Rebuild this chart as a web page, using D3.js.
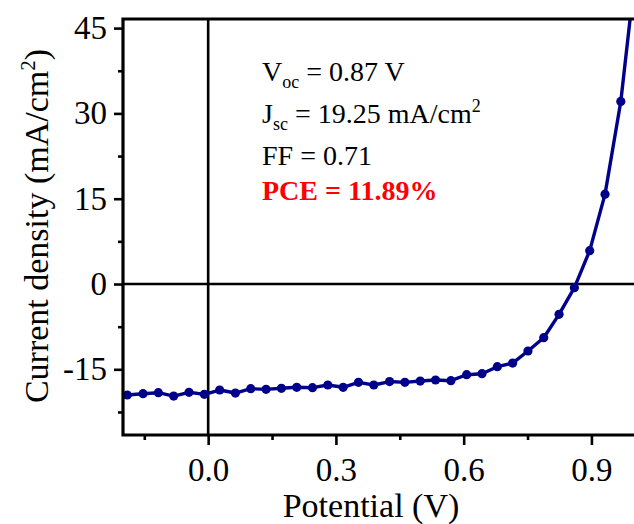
<!DOCTYPE html>
<html>
<head>
<meta charset="utf-8">
<script src="https://cdn.jsdelivr.net/npm/d3@7"></script>
<style>
  html, body { margin: 0; padding: 0; background: #fff; }
  svg { display: block; }
  text { font-family: "Liberation Serif", "Times New Roman", serif; }
</style>
</head>
<body>
<svg id="chart" width="634" height="524"></svg>
<script>
// ---- data ----
const potential = [-0.190, -0.153, -0.117, -0.081, -0.045, -0.009, 0.027, 0.064, 0.100, 0.136,
                   0.172, 0.208, 0.245, 0.281, 0.317, 0.353, 0.389, 0.426, 0.462, 0.498,
                   0.534, 0.570, 0.607, 0.643, 0.679, 0.715, 0.751, 0.788, 0.824, 0.860,
                   0.896, 0.932, 0.969, 1.005];
const currentDensity = [-19.52, -19.29, -19.11, -19.70, -19.04, -19.40, -18.64, -19.17, -18.41, -18.52,
                        -18.34, -18.16, -18.23, -17.76, -18.16, -17.29, -17.76, -17.15, -17.29, -17.06,
                        -16.88, -17.00, -15.95, -15.77, -14.54, -13.90, -11.78, -9.44, -5.33, -0.65,
                        5.87, 15.8, 32.1, 56.0];
const xMajorTicks = [0.0, 0.3, 0.6, 0.9];
const xMinorTicks = [-0.15, 0.15, 0.45, 0.75];
const yMajorTicks = [-15, 0, 15, 30, 45];
const yMinorTicks = [-22.5, -7.5, 7.5, 22.5, 37.5];
const xDomain = [-0.2, 1.0];
const yDomain = [-26.55, 46.6];
const xTitle = "Potential (V)";
const annotations = [
  { main: "V", sub: "oc", rest: " = 0.87 V" },
  { main: "J", sub: "sc", rest: " = 19.25 mA/cm", sup: "2" },
  { main: "FF = 0.71" },
  { main: "PCE = 11.89%", bold: true, color: "#ff0000" }
];

// ---- layout ----
const pL = 123, pR = 634, pT = 19, pB = 435;
const svg = d3.select("#chart");
const x = d3.scaleLinear().domain(xDomain).range([pL, pR]);
const y = d3.scaleLinear().domain(yDomain).range([pB, pT]);
const navy = "#00008b";

svg.append("defs").append("clipPath").attr("id", "plotclip")
  .append("rect").attr("x", pL).attr("y", pT).attr("width", pR - pL).attr("height", pB - pT);

// zero lines
svg.append("line").attr("x1", x(0)).attr("x2", x(0)).attr("y1", pT).attr("y2", pB)
  .attr("stroke", "#000").attr("stroke-width", 2.6);
svg.append("line").attr("x1", pL).attr("x2", pR).attr("y1", y(0)).attr("y2", y(0))
  .attr("stroke", "#000").attr("stroke-width", 2.6);

// curve
const pts = potential.map((v, i) => [v, currentDensity[i]]);
const g = svg.append("g").attr("clip-path", "url(#plotclip)");
g.append("path").datum(pts)
  .attr("fill", "none").attr("stroke", navy).attr("stroke-width", 3.4)
  .attr("stroke-linejoin", "round")
  .attr("d", d3.line().x(d => x(d[0])).y(d => y(d[1])));
g.selectAll("circle").data(pts).join("circle")
  .attr("cx", d => x(d[0])).attr("cy", d => y(d[1])).attr("r", 4.6).attr("fill", navy);

// axes
function styleAxis(sel) {
  sel.select(".domain").remove();
  sel.selectAll(".tick line").attr("stroke", "#000").attr("stroke-width", 2.6);
  sel.selectAll(".tick text").attr("font-family", "Liberation Serif").attr("font-size", 33).attr("fill", "#000");
}
const xAxis = svg.append("g").attr("transform", `translate(0,${pB})`)
  .call(d3.axisBottom(x).tickValues(xMajorTicks).tickSize(10).tickPadding(13).tickFormat(d3.format(".1f")));
styleAxis(xAxis);
const xAxisMinor = svg.append("g").attr("transform", `translate(0,${pB})`)
  .call(d3.axisBottom(x).tickValues(xMinorTicks).tickSize(5).tickFormat(""));
styleAxis(xAxisMinor);
const yAxis = svg.append("g").attr("transform", `translate(${pL},0)`)
  .call(d3.axisLeft(y).tickValues(yMajorTicks).tickSize(9).tickPadding(7).tickFormat(d => String(d)));
styleAxis(yAxis);
const yAxisMinor = svg.append("g").attr("transform", `translate(${pL},0)`)
  .call(d3.axisLeft(y).tickValues(yMinorTicks).tickSize(5).tickFormat(""));
styleAxis(yAxisMinor);

// frame: left, top, bottom
svg.append("path")
  .attr("d", `M${pR},${pT} H${pL} V${pB} H${pR}`)
  .attr("fill", "none").attr("stroke", "#000").attr("stroke-width", 3.2);

// titles
svg.append("text").attr("x", 371).attr("y", 517).attr("text-anchor", "middle")
  .attr("font-size", 34).attr("fill", "#000").text(xTitle);
const yt = svg.append("text").attr("transform", "translate(48,226) rotate(-90)")
  .attr("text-anchor", "middle").attr("font-size", 34).attr("fill", "#000");
yt.append("tspan").text("Current density (mA/cm");
yt.append("tspan").attr("font-size", 21).attr("dy", -13).text("2");
yt.append("tspan").attr("dy", 13).text(")");

// annotation
const baselines = [81, 123, 165, 200];
annotations.forEach((a, i) => {
  const t = svg.append("text").attr("x", 262).attr("y", baselines[i])
    .attr("font-size", 28).attr("fill", a.color || "#000")
    .attr("font-weight", a.bold ? "bold" : "normal");
  t.append("tspan").text(a.main);
  if (a.sub) {
    t.append("tspan").attr("font-size", 18).attr("dy", 7).text(a.sub);
    t.append("tspan").attr("dy", -7).text(a.rest);
  }
  if (a.sup) t.append("tspan").attr("font-size", 18).attr("dy", -11).text(a.sup);
});
</script>
</body>
</html>
